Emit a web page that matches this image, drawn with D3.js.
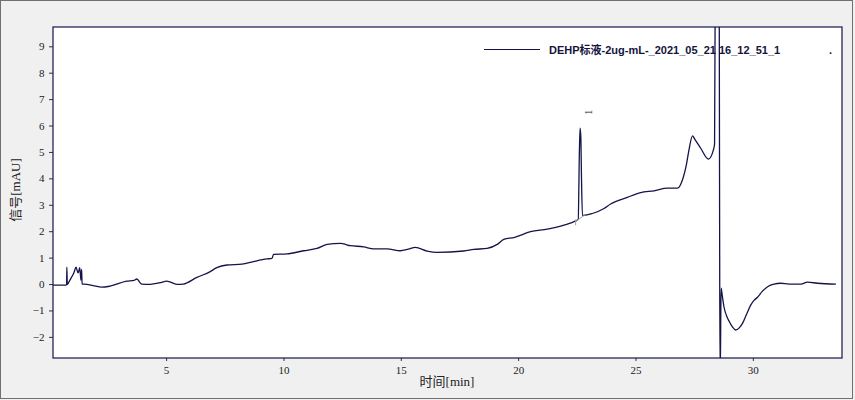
<!DOCTYPE html>
<html><head><meta charset="utf-8">
<script src="https://cdn.jsdelivr.net/npm/d3@7"></script>
<style>
html,body{margin:0;padding:0;background:#f0f0f0;}
svg{display:block;}
</style></head>
<body>
<script>
// ---- data ----
const time = [0.18,0.73,0.76,0.77,0.79,0.90,1.08,1.16,1.25,1.32,1.37,1.40,1.42,1.62,1.89,2.26,2.61,3.32,3.63,3.75,3.96,4.32,4.74,5.03,5.46,5.73,6.31,6.88,7.16,7.59,8.23,8.72,9.30,9.51,9.58,10.15,10.86,11.43,11.86,12.42,12.56,12.85,13.42,13.84,14.42,14.98,15.32,15.62,16.12,16.55,17.68,18.11,18.68,19.11,19.39,19.82,20.53,21.24,21.95,22.45,22.56,22.61,22.64,22.67,22.70,22.74,22.78,23.16,23.66,23.94,24.65,25.22,25.79,26.36,26.79,27.00,27.18,27.28,27.43,27.53,27.78,28.11,28.32,28.37,28.40,28.45,28.55,28.59,28.61,28.65,28.70,28.77,28.88,28.99,29.13,29.27,29.42,29.56,29.73,29.91,30.05,30.20,30.40,30.63,30.90,31.19,31.55,32.05,32.33,32.76,33.54];
const signal = [-0.04,-0.04,-0.03,0.64,-0.02,0.15,0.45,0.64,0.42,0.62,0.15,0.55,0.0,-0.01,-0.06,-0.12,-0.08,0.11,0.14,0.19,0.0,-0.01,0.05,0.11,-0.01,0.0,0.25,0.47,0.62,0.72,0.75,0.85,0.95,0.97,1.12,1.14,1.26,1.35,1.50,1.54,1.52,1.45,1.41,1.33,1.33,1.26,1.32,1.39,1.25,1.20,1.25,1.31,1.35,1.50,1.69,1.76,1.98,2.08,2.23,2.39,2.45,5.0,5.9,5.6,4.0,2.6,2.60,2.67,2.86,3.03,3.28,3.46,3.53,3.63,3.63,3.94,4.57,5.08,5.61,5.48,5.14,4.73,5.08,5.3,12,30,20,0,-3.5,-0.16,-0.45,-0.86,-1.20,-1.41,-1.62,-1.74,-1.66,-1.49,-1.15,-0.80,-0.62,-0.50,-0.28,-0.10,0.0,0.03,0.0,0.0,0.07,0.03,0.0];
const xTicks = [5,10,15,20,25,30];
const yTicks = [-2,-1,0,1,2,3,4,5,6,7,8,9];
const xDomain = [0.18, 33.8];
const yDomain = [-2.8, 9.73];
const seriesName = "DEHP标液-2ug-mL-_2021_05_21 16_12_51_1";
const peakLabels = [{t:22.64, v:5.9, label:"1"}];
const peakBaseline = {t:[22.45,22.85], v:[2.37,2.62]};

// ---- layout ----
const W = 855, H = 400;
const m = {left:53, top:27, right:842, bottom:358};
const navy = "#14144a";

const svg = d3.select("body").append("svg").attr("width", W).attr("height", H);
svg.append("rect").attr("x",0.5).attr("y",0.5).attr("width",W-3).attr("height",H-2)
  .attr("fill","#f0f0f0").attr("stroke","#707070").attr("stroke-width",1);

const x = d3.scaleLinear().domain(xDomain).range([m.left, m.right]);
const y = d3.scaleLinear().domain(yDomain).range([m.bottom, m.top]);

svg.append("rect").attr("x",m.left).attr("y",m.top)
  .attr("width",m.right-m.left).attr("height",m.bottom-m.top).attr("fill","#fff");

svg.append("defs").append("clipPath").attr("id","clip")
  .append("rect").attr("x",m.left).attr("y",m.top)
  .attr("width",m.right-m.left).attr("height",m.bottom-m.top);

// axes
const xAxis = svg.append("g").attr("transform",`translate(0,${m.bottom})`)
  .call(d3.axisBottom(x).tickValues(xTicks).tickSize(3).tickSizeOuter(0).tickFormat(d3.format("d")));
const yAxis = svg.append("g").attr("transform",`translate(${m.left},0)`)
  .call(d3.axisLeft(y).tickValues(yTicks).tickSize(4).tickSizeOuter(0).tickFormat(d3.format("d")));
[xAxis,yAxis].forEach(g=>{
  g.select(".domain").remove();
  g.selectAll("line").attr("stroke","#333");
  g.selectAll("text").attr("font-family","'Liberation Serif','DejaVu Serif',serif")
    .attr("font-size",11).attr("fill","#222");
});
xAxis.selectAll("text").attr("dy","0.95em");
yAxis.selectAll("text").attr("dx","-1.5px");

// legend
svg.append("line").attr("x1",484).attr("x2",540).attr("y1",49.5).attr("y2",49.5)
  .attr("stroke",navy).attr("stroke-width",1);
svg.append("text").attr("x",549).attr("y",53.5)
  .attr("font-family","'Liberation Sans',Arial,'Noto Sans CJK SC',sans-serif")
  .attr("font-weight","bold").attr("font-size",11).attr("fill","#14143c").text(seriesName);
svg.append("text").attr("x",829).attr("y",53.5)
  .attr("font-family","'Liberation Sans',Arial,sans-serif").attr("font-weight","bold")
  .attr("font-size",11).attr("fill","#14143c").text(".");

// trace
const plot = svg.append("g").attr("clip-path","url(#clip)");
const pts = time.map((t,i)=>[t,signal[i]]);
plot.append("path").datum(pts)
  .attr("d", d3.line().curve(d3.curveMonotoneX).x(d=>x(d[0])).y(d=>y(d[1])))
  .attr("fill","none").attr("stroke",navy).attr("stroke-width",1.3).attr("stroke-linejoin","round");

// peak baseline (gray)
plot.append("line")
  .attr("x1",x(peakBaseline.t[0])).attr("y1",y(peakBaseline.v[0]))
  .attr("x2",x(peakBaseline.t[1])).attr("y2",y(peakBaseline.v[1]))
  .attr("stroke","#a0a0a0").attr("stroke-width",1);
plot.append("line")
  .attr("x1",x(peakBaseline.t[0])).attr("x2",x(peakBaseline.t[0]))
  .attr("y1",y(peakBaseline.v[0])-2).attr("y2",y(peakBaseline.v[0])+4)
  .attr("stroke","#a0a0a0").attr("stroke-width",1);

// peak labels
peakLabels.forEach(p=>{
  const px = x(p.t)+12, py = y(p.v)-16;
  svg.append("text").attr("transform",`translate(${px},${py}) rotate(-90)`)
    .attr("text-anchor","middle").attr("font-family","'Liberation Serif',serif")
    .attr("font-size",10).attr("fill","#222").text(p.label);
});

// frame
svg.append("rect").attr("x",m.left).attr("y",m.top)
  .attr("width",m.right-m.left).attr("height",m.bottom-m.top)
  .attr("fill","none").attr("stroke",navy).attr("stroke-width",1.2);

// axis titles
svg.append("text").attr("x",447).attr("y",386).attr("text-anchor","middle")
  .attr("font-family","'Liberation Serif','Noto Sans CJK SC',serif").attr("font-size",13)
  .attr("fill","#222").text("时间[min]");
svg.append("text").attr("transform","translate(20,190) rotate(-90)").attr("text-anchor","middle")
  .attr("font-family","'Liberation Serif','Noto Sans CJK SC',serif").attr("font-size",13)
  .attr("fill","#222").text("信号[mAU]");
</script>
</body></html>
